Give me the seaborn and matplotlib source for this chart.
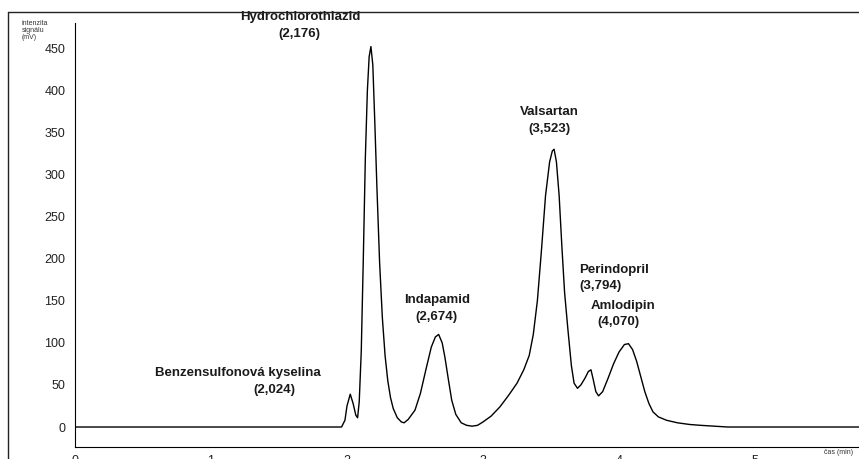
import numpy as np
import pandas as pd
import matplotlib
matplotlib.use("Agg")
import matplotlib.pyplot as plt
from matplotlib.ticker import MultipleLocator
from matplotlib.lines import Line2D
import seaborn as sns

# Chromatogram trace: retention time (min) and detector signal (mV)
cas_min = [0.0, 1.96, 1.985, 2.00, 2.024, 2.045, 2.065, 2.078, 2.09, 2.105,
           2.12, 2.135, 2.15, 2.163, 2.176, 2.19, 2.205, 2.22, 2.24, 2.26,
           2.28, 2.30, 2.32, 2.34, 2.37, 2.40, 2.42, 2.45, 2.50, 2.54,
           2.58, 2.62, 2.65, 2.674, 2.70, 2.72, 2.745, 2.77, 2.80, 2.84,
           2.88, 2.92, 2.96, 3.00, 3.06, 3.125, 3.19, 3.25, 3.30, 3.34,
           3.37, 3.40, 3.43, 3.46, 3.49, 3.51, 3.523, 3.54, 3.56, 3.58,
           3.60, 3.625, 3.65, 3.67, 3.695, 3.72, 3.75, 3.775, 3.794, 3.81,
           3.83, 3.85, 3.88, 3.92, 3.96, 4.00, 4.04, 4.07, 4.10, 4.13,
           4.16, 4.19, 4.22, 4.25, 4.29, 4.35, 4.43, 4.52, 4.60, 4.70,
           4.80, 5.80]
signal_mv = [0, 0, 8, 25, 39, 28, 14, 11, 30, 90,
             200, 320, 400, 440, 452, 430, 360, 285, 195, 130,
             85, 55, 35, 22, 11, 6, 5, 9, 20, 40,
             68, 95, 107, 110, 100, 83, 57, 32, 15, 5,
             2, 1, 2, 6, 13, 24, 38, 52, 68, 85,
             110, 150, 210, 275, 315, 328, 330, 315, 275, 215,
             160, 115, 73, 52, 46, 50, 58, 66, 68, 57,
             42, 37, 42, 58, 75, 89, 98, 99, 92, 78,
             60, 42, 28, 18, 12, 8, 5, 3, 2, 1,
             0, 0]

# Peak annotations: name, retention time label
peak_names = ["Benzensulfonová kyselina", "Hydrochlorothiazid", "Indapamid",
              "Valsartan", "Perindopril", "Amlodipin"]
peak_times = ["(2,024)", "(2,176)", "(2,674)", "(3,523)", "(3,794)", "(4,070)"]

y_ticks = list(range(0, 451, 50))
x_ticks = [0, 1, 2, 3, 4, 5]

sns.set_theme(style="white")
plt.rcParams["font.family"] = ["Liberation Sans", "DejaVu Sans"]

W, H = 859, 459
fig = plt.figure(figsize=(W / 100, H / 100), dpi=100)

def fx(px):
    return px / W

def fy(py):
    return 1 - py / H

ax = fig.add_axes([fx(75), fy(447), fx(859) - fx(75), fy(23) - fy(447)])

df = pd.DataFrame({"cas": cas_min, "signal": signal_mv})
sns.lineplot(data=df, x="cas", y="signal", ax=ax, color="black",
             linewidth=1.0, sort=False, estimator=None)

ax.set_xlim(0, 5.765)
ax.set_ylim(-23.75, 480)
ax.set_xlabel("")
ax.set_ylabel("")

ax.set_yticks(y_ticks)
ax.set_yticklabels([str(v) for v in y_ticks])
ax.yaxis.set_minor_locator(MultipleLocator(10))
ax.set_xticks(x_ticks)
ax.set_xticklabels([str(v) for v in x_ticks])
ax.xaxis.set_minor_locator(MultipleLocator(0.2))

ax.tick_params(axis="both", which="major", direction="out", length=5,
               width=0.8, color="black", labelsize=9, labelcolor="#222222")
ax.tick_params(axis="both", which="minor", direction="out", length=2.5,
               width=0.6, color="black")
ax.tick_params(axis="y", which="major", pad=2)
ax.tick_params(axis="x", which="major", pad=1)

for side in ["top", "right"]:
    ax.spines[side].set_visible(False)
for side in ["left", "bottom"]:
    ax.spines[side].set_color("black")
    ax.spines[side].set_linewidth(0.8)
ax.set_facecolor("white")
ax.grid(False)

# Peak labels
lab = dict(fontsize=9.5, fontweight="bold", color="#1a1a1a", clip_on=False)

def px2t(px):
    return (px - 75) / 136.0

def py2v(py):
    return (427 - py) / 0.842

ax.text(px2t(238), py2v(373), peak_names[0], ha="center", va="center", **lab)
ax.text(px2t(274), py2v(390), peak_times[0], ha="center", va="center", **lab)
ax.text(px2t(300), py2v(17), peak_names[1], ha="center", va="center", **lab)
ax.text(px2t(299), py2v(34), peak_times[1], ha="center", va="center", **lab)
ax.text(px2t(437), py2v(300), peak_names[2], ha="center", va="center", **lab)
ax.text(px2t(436), py2v(317), peak_times[2], ha="center", va="center", **lab)
ax.text(px2t(549), py2v(112), peak_names[3], ha="center", va="center", **lab)
ax.text(px2t(549), py2v(129), peak_times[3], ha="center", va="center", **lab)
ax.text(px2t(579), py2v(270), peak_names[4], ha="left", va="center", **lab)
ax.text(px2t(579), py2v(286), peak_times[4], ha="left", va="center", **lab)
ax.text(px2t(623), py2v(306), peak_names[5], ha="center", va="center", **lab)
ax.text(px2t(618), py2v(322), peak_times[5], ha="center", va="center", **lab)

# Axis captions
fig.text(fx(22), fy(20), "intenzita\nsignálu\n(mV)", fontsize=5,
         ha="left", va="top", color="#333333", linespacing=1.0)
fig.text(fx(853), fy(452), "čas (min)", fontsize=5, ha="right",
         va="center", color="#333333")

# Outer frame
fig.add_artist(Line2D([fx(8), 1], [fy(12), fy(12)], color="#222222",
                      linewidth=1.0))
fig.add_artist(Line2D([fx(8), fx(8)], [0, fy(12)], color="#222222",
                      linewidth=1.0))

fig.savefig("out.png", dpi=100, facecolor="white")
